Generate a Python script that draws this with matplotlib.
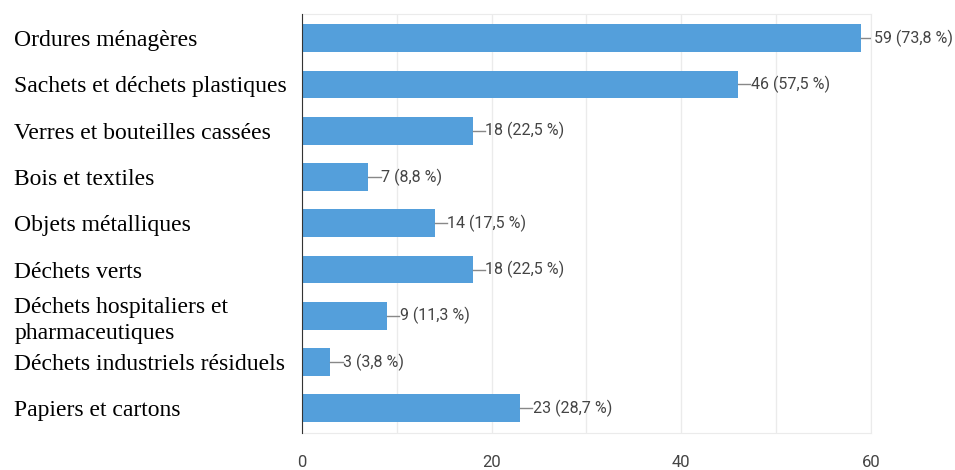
import matplotlib.pyplot as plt

categories = [
    "Ordures ménagères",
    "Sachets et déchets plastiques",
    "Verres et bouteilles cassées",
    "Bois et textiles",
    "Objets métalliques",
    "Déchets verts",
    "Déchets hospitaliers et\npharmaceutiques",
    "Déchets industriels résiduels",
    "Papiers et cartons",
]
counts = [59, 46, 18, 7, 14, 18, 9, 3, 23]
percents = ["73,8", "57,5", "22,5", "8,8", "17,5", "22,5", "11,3", "3,8", "28,7"]
x_ticks = [0, 20, 40, 60]

sans = ["Roboto", "DejaVu Sans"]

fig = plt.figure(figsize=(9.55, 4.7), dpi=100)
ax = fig.add_axes([0.316, 0.079, 0.596, 0.891])

bar_color = "#549fdb"
y = list(range(len(categories)))
ax.barh(y, counts, height=0.6, color=bar_color, zorder=3)

# étiquettes de valeur avec petit trait
for yi, c, p in zip(y, counts, percents):
    ax.plot([c, c + 1.3], [yi, yi], color="#888888", lw=1, zorder=3)
    ax.text(c + 1.35, yi, f"{c} ({p} %)", va="center", ha="left",
            fontsize=11.5, color="#444444", family=sans)

ax.set_xlim(0, 60)
ax.set_ylim(8.53, -0.52)
ax.set_xticks(x_ticks)
ax.set_xticks(range(0, 61, 10), minor=True)
ax.xaxis.grid(True, which="both", color="#ebebeb", lw=1, zorder=0)
ax.tick_params(axis="x", which="both", length=0, pad=16, labelsize=12,
               labelcolor="#444444")
for lab in ax.get_xticklabels():
    lab.set_family(sans)

ax.set_yticks(y)
ax.set_yticklabels(categories, ha="left", fontsize=17, family="Liberation Serif",
                   linespacing=1.3)
ax.tick_params(axis="y", length=0, pad=207)

for s in ["top", "right", "bottom"]:
    ax.spines[s].set_color("#ebebeb")
ax.spines["left"].set_color("#333333")
ax.spines["left"].set_zorder(4)

fig.savefig("out.png", dpi=100)
